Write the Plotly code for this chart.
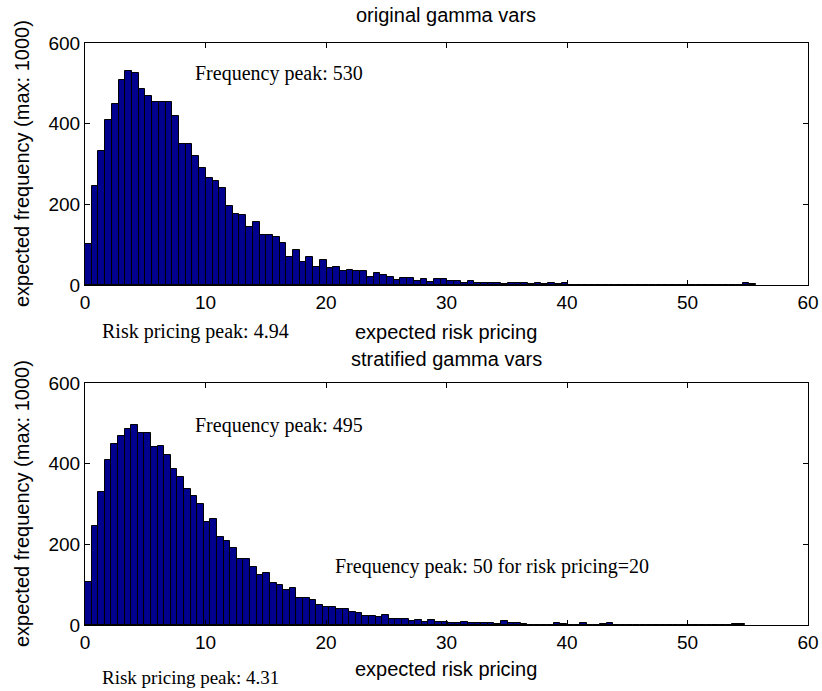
import plotly.graph_objects as go

W, H = 822, 691

# Histogram counts (100 equal-width bins over each sample's range)
top_counts = [
    101, 245, 333, 409, 450, 509, 530, 525, 486, 469,
    453, 453, 453, 420, 350, 350, 321, 290, 266, 258,
    241, 197, 177, 173, 144, 157, 125, 125, 119, 105,
    70, 86, 57, 69, 45, 61, 41, 45, 35, 38,
    34, 34, 21, 30, 26, 21, 12, 18, 18, 10,
    14, 8, 14, 14, 9, 9, 6, 10, 4, 5,
    4, 4, 3, 4, 5, 4, 2, 4, 3, 4,
    3, 4, 0, 0, 0, 0, 0, 0, 0, 0,
    0, 0, 0, 0, 0, 0, 0, 0, 0, 0,
    0, 0, 0, 0, 0, 0, 0, 0, 4, 3,
]
top_range = (0.0, 55.7)

bottom_counts = [
    107, 245, 331, 410, 449, 468, 485, 495, 477, 477,
    442, 445, 422, 386, 366, 336, 319, 300, 256, 264,
    219, 208, 191, 164, 164, 145, 123, 130, 103, 98,
    86, 91, 68, 68, 62, 50, 44, 44, 40, 40,
    33, 29, 22, 22, 20, 26, 16, 14, 16, 10,
    12, 8, 12, 8, 8, 4, 4, 8, 6, 5,
    5, 6, 3, 9, 5, 5, 2, 0, 0, 0,
    0, 4, 3, 0, 0, 4, 0, 0, 3, 4,
    0, 0, 0, 0, 0, 0, 0, 0, 0, 0,
    0, 0, 0, 0, 0, 0, 0, 0, 3, 2,
]
bottom_range = (0.0, 54.8)

x_ticks = [0, 10, 20, 30, 40, 50, 60]
y_ticks = [0, 200, 400, 600]

titles = ["original gamma vars", "stratified gamma vars"]
x_label = "expected risk pricing"
y_label = "expected frequency (max: 1000)"
notes_top = ["Frequency peak: 530", "Risk pricing peak: 4.94"]
notes_bottom = ["Frequency peak: 495", "Frequency peak: 50 for risk pricing=20",
                "Risk pricing peak: 4.31"]

BAR_FILL = "rgb(0,0,143)"
SANS = "Liberation Sans, Arial, Helvetica, sans-serif"
SERIF = "Liberation Serif, Times New Roman, serif"


def bin_centers(rng, n):
    w = (rng[1] - rng[0]) / n
    return [rng[0] + (i + 0.5) * w for i in range(n)], w


def px(x):
    return x / W


def py(y):
    return 1 - y / H


fig = go.Figure()
for counts, rng, xa, ya in [(top_counts, top_range, "x", "y"),
                            (bottom_counts, bottom_range, "x2", "y2")]:
    xs, w = bin_centers(rng, len(counts))
    fig.add_trace(go.Bar(
        x=xs, y=counts, width=w, xaxis=xa, yaxis=ya,
        marker=dict(color=BAR_FILL, line=dict(color="black", width=1)),
        showlegend=False, hoverinfo="skip",
    ))

axis_common = dict(
    showline=True, linecolor="black", linewidth=1, mirror="ticks",
    ticks="inside", ticklen=5, tickcolor="black", tickwidth=1,
    showgrid=False, zeroline=False, automargin=False,
    tickfont=dict(family=SANS, size=19, color="black"),
)

x_dom = [px(85), px(808)]
fig.update_layout(
    template="none",
    width=W, height=H,
    margin=dict(l=0, r=0, t=0, b=0, pad=0),
    paper_bgcolor="white", plot_bgcolor="white",
    bargap=0,
    xaxis=dict(domain=x_dom, range=[0, 60], tickvals=x_ticks, anchor="y", **axis_common),
    yaxis=dict(domain=[py(285), py(43)], range=[0, 600], tickvals=y_ticks, anchor="x", **axis_common),
    xaxis2=dict(domain=x_dom, range=[0, 60], tickvals=x_ticks, anchor="y2", **axis_common),
    yaxis2=dict(domain=[py(625), py(383)], range=[0, 600], tickvals=y_ticks, anchor="x2", **axis_common),
)


def note(text, x, y, family, size, xanchor="center", angle=0):
    return dict(text=text, x=px(x), y=py(y), xref="paper", yref="paper",
                showarrow=False, xanchor=xanchor, yanchor="middle",
                textangle=angle, font=dict(family=family, size=size, color="black"))


annotations = [
    note(titles[0], 446, 15, SANS, 20),
    note(titles[1], 446, 359, SANS, 20),
    note(x_label, 446, 332, SANS, 20),
    note(x_label, 446, 669, SANS, 20),
    note(y_label, 22, 164, SANS, 20, angle=-90),
    note(y_label, 22, 504, SANS, 20, angle=-90),
    note(notes_top[0], 193, 73, SERIF, 20, xanchor="left"),
    note(notes_top[1], 100, 331, SERIF, 20, xanchor="left"),
    note(notes_bottom[0], 193, 425, SERIF, 20, xanchor="left"),
    note(notes_bottom[1], 333, 566, SERIF, 20, xanchor="left"),
    note(notes_bottom[2], 100, 677, SERIF, 19, xanchor="left"),
]
fig.update_layout(annotations=annotations)

fig.write_html("out.html")
